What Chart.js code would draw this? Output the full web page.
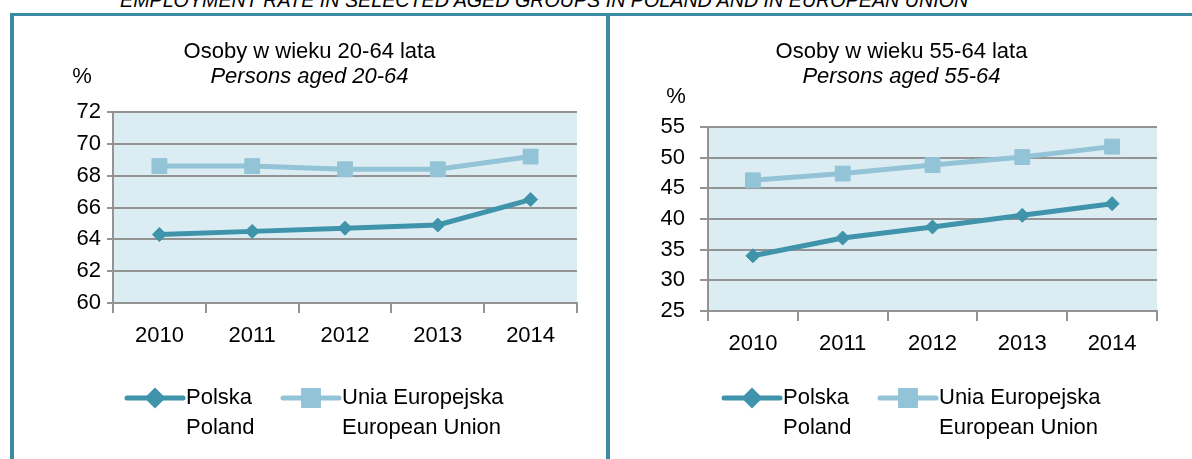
<!DOCTYPE html>
<html>
<head>
<meta charset="utf-8">
<script src="https://cdn.jsdelivr.net/npm/chart.js@4.4.0/dist/chart.umd.min.js"></script>
<style>
  body { margin: 0; width: 1192px; height: 459px; overflow: hidden; background: #fff; position: relative; font-family: 'Liberation Sans', Arial, sans-serif; }
  #head { position: absolute; left: 120px; top: -10px; font-size: 19.7px; line-height: 20px; font-style: italic; color: #000; white-space: nowrap; }
  .rule { position: absolute; background: #3a8aa0; }
  .panel { position: absolute; top: 16px; }
</style>
</head>
<body>
<div id="head">EMPLOYMENT RATE IN SELECTED AGED GROUPS IN POLAND AND IN EUROPEAN UNION</div>
<div class="rule" style="left:10px;top:13px;width:1182px;height:3px"></div>
<div class="rule" style="left:10px;top:13px;width:4px;height:446px"></div>
<div class="rule" style="left:606px;top:13px;width:4px;height:446px"></div>
<canvas id="c1" class="panel" style="left:14px" width="591" height="443"></canvas>
<canvas id="c2" class="panel" style="left:611px" width="581" height="443"></canvas>
<script>
// data
const years = ['2010', '2011', '2012', '2013', '2014'];
const poland2064 = [64.3, 64.5, 64.7, 64.9, 66.5];
const eu2064 = [68.6, 68.6, 68.4, 68.4, 69.2];
const poland5564 = [34.0, 36.9, 38.7, 40.6, 42.5];
const eu5564 = [46.3, 47.4, 48.8, 50.1, 51.8];
const yTicks2064 = [60, 62, 64, 66, 68, 70, 72];
const yTicks5564 = [25, 30, 35, 40, 45, 50, 55];
const seriesNames = [['Polska', 'Poland'], ['Unia Europejska', 'European Union']];

const FONT = "'Liberation Sans', Arial, sans-serif";
const plColor = '#3f93aa';
const euColor = '#93c3d6';
const gridColor = '#939393';
const plotBg = '#dbedf3';

// fills the plot area before the grid goes on top
const plotBgPlugin = {
  id: 'plotBg',
  beforeDraw(chart) {
    const { ctx, chartArea: a } = chart;
    ctx.save();
    ctx.fillStyle = plotBg;
    ctx.fillRect(a.left, a.top, a.right - a.left, a.bottom - a.top);
    ctx.restore();
  }
};

// the "%" unit above the y axis
const unitPlugin = {
  id: 'unitLabel',
  afterDraw(chart, args, opts) {
    const ctx = chart.ctx;
    ctx.save();
    ctx.font = '22px ' + FONT;
    ctx.fillStyle = '#000';
    ctx.textAlign = 'center';
    ctx.textBaseline = 'middle';
    ctx.fillText(opts.text, opts.x, opts.y);
    ctx.restore();
  }
};

// two-line legend entries, drawn from the datasets
const legendPlugin = {
  id: 'twoLineLegend',
  afterDraw(chart, args, opts) {
    const ctx = chart.ctx;
    chart.data.datasets.forEach((ds, i) => {
      const x0 = opts.starts[i], y = opts.y;
      ctx.save();
      ctx.strokeStyle = ds.borderColor;
      ctx.lineWidth = ds.borderWidth;
      ctx.lineCap = 'round';
      ctx.beginPath();
      ctx.moveTo(x0, y);
      ctx.lineTo(x0 + opts.sample, y);
      ctx.stroke();
      ctx.fillStyle = ds.pointBackgroundColor;
      ctx.strokeStyle = ds.pointBackgroundColor;
      Chart.helpers.drawPoint(ctx, { pointStyle: ds.pointStyle, radius: ds.pointRadius, borderWidth: 1, rotation: 0 }, x0 + opts.sample / 2, y);
      ctx.font = '22px ' + FONT;
      ctx.fillStyle = '#000';
      ctx.textAlign = 'left';
      ctx.textBaseline = 'middle';
      ds.legendLines.forEach((t, k) => ctx.fillText(t, x0 + opts.sample + 3, y + k * opts.lineGap));
      ctx.restore();
    });
  }
};

function makeChart(id, title, subtitle, plData, euData, yTicks, cfg) {
  new Chart(document.getElementById(id), {
    type: 'line',
    data: {
      labels: years,
      datasets: [
        {
          label: seriesNames[0].join(' '), legendLines: seriesNames[0], data: plData,
          borderColor: plColor, borderWidth: 5, pointStyle: 'rectRot', pointRadius: 7,
          pointBackgroundColor: plColor, pointBorderColor: plColor, pointBorderWidth: 1, tension: 0, clip: false
        },
        {
          label: seriesNames[1].join(' '), legendLines: seriesNames[1], data: euData,
          borderColor: euColor, borderWidth: 5, pointStyle: 'rect', pointRadius: 10.5,
          pointBackgroundColor: euColor, pointBorderColor: euColor, pointBorderWidth: 1, tension: 0, clip: false
        }
      ]
    },
    options: {
      responsive: false,
      animation: false,
      layout: { padding: 0 },
      plugins: {
        legend: { display: false },
        tooltip: { enabled: false },
        title: {
          display: true, text: title, color: '#000',
          font: { family: FONT, size: 22, weight: 'normal', lineHeight: 1.1 },
          padding: { top: 24, bottom: 0 }
        },
        subtitle: {
          display: true, text: subtitle, color: '#000',
          font: { family: FONT, size: 22, style: 'italic', lineHeight: 1.1 },
          padding: { top: 1, bottom: cfg.subPad }
        },
        unitLabel: { text: '%', x: cfg.unitX, y: cfg.unitY },
        twoLineLegend: { starts: [113, 269], sample: 56, y: 382, lineGap: 30 }
      },
      scales: {
        x: {
          type: 'category',
          offset: true,
          grid: { offset: true, drawOnChartArea: false, drawTicks: true, tickLength: 10, color: gridColor, lineWidth: 2 },
          border: { display: true, color: gridColor, width: 2 },
          ticks: { color: '#000', font: { family: FONT, size: 22 }, padding: 10, maxRotation: 0, autoSkip: false },
          afterFit: s => { s.height = cfg.xHeight; }
        },
        y: {
          min: yTicks[0],
          max: yTicks[yTicks.length - 1],
          afterBuildTicks: s => { s.ticks = yTicks.map(v => ({ value: v })); },
          grid: { color: gridColor, lineWidth: 2, drawTicks: true, tickLength: cfg.tickLen },
          border: { display: true, color: gridColor, width: 2 },
          ticks: { color: '#000', font: { family: FONT, size: 22 }, padding: cfg.tickPad, autoSkip: false },
          afterFit: s => { s.width = cfg.yWidth; }
        },
        // empty right-hand spacer so the titles stay centred on the whole panel
        spacer: {
          type: 'linear', position: 'right', min: 0, max: 1,
          grid: { display: false }, border: { display: false }, ticks: { display: false },
          afterFit: s => { s.width = cfg.right; }
        }
      }
    },
    plugins: [plotBgPlugin, unitPlugin, legendPlugin]
  });
}

makeChart('c1', 'Osoby w wieku 20-64 lata', 'Persons aged 20-64', poland2064, eu2064, yTicks2064,
  { right: 28, subPad: 22.6, unitX: 68, unitY: 61, xHeight: 156, yWidth: 99, tickLen: 6, tickPad: 6 });
makeChart('c2', 'Osoby w wieku 55-64 lata', 'Persons aged 55-64', poland5564, eu5564, yTicks5564,
  { right: 35, subPad: 37.6, unitX: 65, unitY: 81, xHeight: 148, yWidth: 97, tickLen: 8, tickPad: 15 });
</script>
</body>
</html>
